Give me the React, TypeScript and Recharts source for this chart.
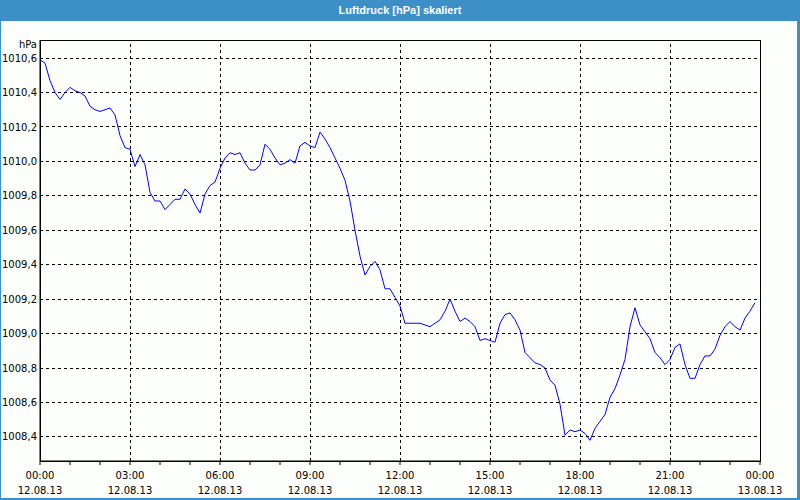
import { LineChart, Line, XAxis, YAxis, ReferenceLine, ReferenceArea } from 'recharts';

// Luftdruck, 12.08.13, every 10 minutes (00:00 .. 23:50)
const pressure = [
  1010.59, 1010.57, 1010.47, 1010.40, 1010.36, 1010.40, 1010.43, 1010.41, 1010.40, 1010.38,
  1010.32, 1010.30, 1010.29, 1010.30, 1010.31, 1010.27, 1010.15, 1010.08, 1010.07, 1009.97,
  1010.04, 1009.98, 1009.82, 1009.77, 1009.77, 1009.72, 1009.75, 1009.78, 1009.78, 1009.84,
  1009.81, 1009.75, 1009.70, 1009.81, 1009.86, 1009.88, 1009.96, 1010.02, 1010.05, 1010.04,
  1010.05, 1009.99, 1009.95, 1009.95, 1009.98, 1010.10, 1010.07, 1010.02, 1009.98, 1009.99,
  1010.01, 1009.99, 1010.09, 1010.11, 1010.09, 1010.08, 1010.17, 1010.13, 1010.08, 1010.02,
  1009.96, 1009.89, 1009.77, 1009.60, 1009.45, 1009.34, 1009.39, 1009.42, 1009.37, 1009.26,
  1009.26, 1009.21, 1009.16, 1009.06, 1009.06, 1009.06, 1009.06, 1009.05, 1009.04, 1009.06,
  1009.08, 1009.13, 1009.20, 1009.13, 1009.07, 1009.09, 1009.07, 1009.04, 1008.96, 1008.97,
  1008.96, 1008.95, 1009.06, 1009.11, 1009.12, 1009.08, 1009.02, 1008.89, 1008.86, 1008.83,
  1008.82, 1008.80, 1008.73, 1008.70, 1008.59, 1008.41, 1008.44, 1008.43, 1008.44, 1008.42,
  1008.38, 1008.45, 1008.49, 1008.53, 1008.63, 1008.68, 1008.76, 1008.85, 1009.04, 1009.15,
  1009.05, 1009.01, 1008.97, 1008.89, 1008.86, 1008.82, 1008.85, 1008.92, 1008.94, 1008.82,
  1008.74, 1008.74, 1008.82, 1008.87, 1008.87, 1008.91, 1008.99, 1009.04, 1009.07, 1009.04,
  1009.02, 1009.09, 1009.13, 1009.18,
];

const hourTicks = [0, 1, 2, 3, 4, 5, 6, 7, 8, 9, 10, 11, 12, 13, 14, 15, 16, 17, 18, 19, 20, 21, 22, 23, 24];
const gridHours = [3, 6, 9, 12, 15, 18, 21];
const timeLabels = ['00:00', '03:00', '06:00', '09:00', '12:00', '15:00', '18:00', '21:00', '00:00'];
const dateLabels = ['12.08.13', '12.08.13', '12.08.13', '12.08.13', '12.08.13', '12.08.13', '12.08.13', '12.08.13', '13.08.13'];
const valueTicks = [1008.4, 1008.6, 1008.8, 1009.0, 1009.2, 1009.4, 1009.6, 1009.8, 1010.0, 1010.2, 1010.4, 1010.6];
const yDomain = [1008.26, 1010.705];

const data = pressure.map((p, i) => ({ t: i / 6, p }));

const FONT = '"DejaVu Sans", Verdana, sans-serif';

function TimeTick({ x, y, payload }: any) {
  const h = payload.value;
  if (h % 3 !== 0) return <g />;
  const idx = h / 3;
  return (
    <text x={x} y={y} textAnchor="middle" fontFamily={FONT} fontSize={10} fill="#000">
      <tspan x={x} dy={14}>{timeLabels[idx]}</tspan>
      <tspan x={x} dy={15}>{dateLabels[idx]}</tspan>
    </text>
  );
}

export default function App() {
  return (
    <div style={{ position: 'absolute', left: 0, top: 0, width: 800, height: 500, background: '#3c8fc7' }}>
      <div
        style={{
          position: 'absolute', left: 0, top: 0, width: 800, height: 21, lineHeight: '21px',
          textAlign: 'center', color: '#fff', fontWeight: 'bold', fontSize: 11,
          fontFamily: '"Liberation Sans", Arial, sans-serif',
        }}
      >
        Luftdruck [hPa] skaliert
      </div>
      <div style={{ position: 'absolute', left: 1, top: 21, width: 796, height: 477, background: '#fcfffc' }} />
      <div
        style={{
          position: 'absolute', left: 0, top: 38, width: 37, textAlign: 'right',
          fontFamily: FONT, fontSize: 10, lineHeight: '14px', color: '#000',
        }}
      >
        hPa
      </div>
      <div style={{ position: 'absolute', left: 0, top: 0 }}>
        <LineChart width={800} height={500} data={data} margin={{ top: 40, right: 40, bottom: 0, left: 0 }}>
          <XAxis
            dataKey="t"
            type="number"
            domain={[0, 24]}
            ticks={hourTicks}
            interval={0}
            height={39}
            tickSize={4}
            tickMargin={0}
            axisLine={{ stroke: '#000' }}
            tickLine={{ stroke: '#000' }}
            tick={<TimeTick />}
          />
          <YAxis
            type="number"
            domain={yDomain}
            allowDataOverflow
            ticks={valueTicks}
            interval={0}
            width={40}
            tickLine={false}
            tickSize={0}
            tickMargin={3}
            axisLine={{ stroke: '#000' }}
            tick={{ fill: '#000', fontSize: 10, fontFamily: FONT }}
            tickFormatter={(v: number) => v.toFixed(1).replace('.', ',')}
          />
          {gridHours.map((h) => (
            <ReferenceLine key={'x' + h} x={h} stroke="#000" strokeDasharray="3 3" shapeRendering="crispEdges" />
          ))}
          {valueTicks.map((v) => (
            <ReferenceLine key={'y' + v} y={v} stroke="#000" strokeDasharray="3 3" shapeRendering="crispEdges" />
          ))}
          <ReferenceArea
            x1={0}
            x2={24}
            y1={yDomain[0]}
            y2={yDomain[1]}
            fill="none"
            stroke="#000"
            strokeWidth={1}
            shapeRendering="crispEdges"
          />
          <Line
            type="linear"
            dataKey="p"
            stroke="#0000ff"
            strokeWidth={1}
            dot={false}
            isAnimationActive={false}
          />
        </LineChart>
      </div>
    </div>
  );
}
